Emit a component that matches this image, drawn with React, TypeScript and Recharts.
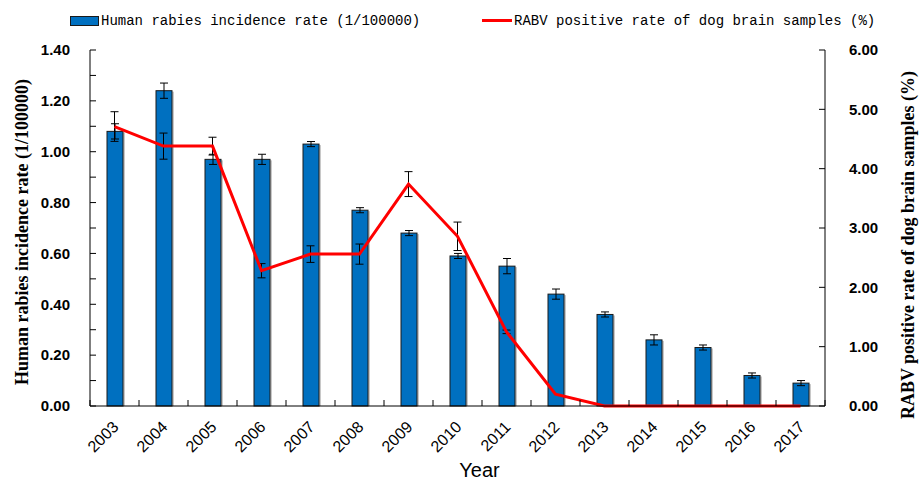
import React from 'react';
import { ComposedChart, Bar, Line, XAxis, YAxis, ErrorBar } from 'recharts';

const YEARS = ['2003', '2004', '2005', '2006', '2007', '2008', '2009', '2010', '2011', '2012', '2013', '2014', '2015', '2016', '2017'];
const HUMAN_RATE = [1.08, 1.24, 0.97, 0.97, 1.03, 0.77, 0.68, 0.59, 0.55, 0.44, 0.36, 0.26, 0.23, 0.12, 0.09];
const HUMAN_ERR = [0.03, 0.03, 0.02, 0.02, 0.01, 0.01, 0.01, 0.01, 0.03, 0.02, 0.01, 0.02, 0.01, 0.01, 0.01];
const DOG_RATE = [4.71, 4.38, 4.38, 2.28, 2.56, 2.56, 3.74, 2.86, 1.25, 0.2, 0, 0, 0, 0, 0];
const DOG_ERR = [0.25, 0.22, 0.15, 0.12, 0.14, 0.17, 0.21, 0.24, 0.03, null, null, null, null, null, null];
const LEFT_TICKS = [0, 0.1, 0.2, 0.3, 0.4, 0.5, 0.6, 0.7, 0.8, 0.9, 1.0, 1.1, 1.2, 1.3, 1.4];
const RIGHT_TICKS = [0, 1, 2, 3, 4, 5, 6];
const HUMAN_NAME = 'Human rabies incidence rate (1/100000)';
const DOG_NAME = 'RABV positive rate of dog brain samples (%)';
const LEFT_TITLE = 'Human rabies incidence rate (1/100000)';
const RIGHT_TITLE = 'RABV positive rate of dog brain samples (%)';
const X_TITLE = 'Year';

const data = YEARS.map((year, i) => ({
  year,
  pos: i + 0.5,
  human: HUMAN_RATE[i],
  humanErr: HUMAN_ERR[i],
  dog: DOG_RATE[i],
  dogErr: DOG_ERR[i],
}));

const X_TICKS: number[] = [];
YEARS.forEach((_, i) => {
  X_TICKS.push(i);
  X_TICKS.push(i + 0.5);
});
X_TICKS.push(YEARS.length);

const BLUE = '#0070C0';
const RED = '#FF0000';

const BarShape = (props: any) => {
  const { x, y, width, height } = props;
  if (!height || height <= 0) return null;
  return (
    <g>
      <rect x={x + 2} y={y + 1} width={width} height={height - 1} fill="#c8c8c8" />
      <rect x={x} y={y} width={width} height={height} fill={BLUE} stroke="#1a1a1a" strokeWidth={1} />
    </g>
  );
};

const YearTick = (props: any) => {
  const { x, y, payload } = props;
  const v = payload.value;
  if (Number.isInteger(v)) {
    return <line x1={x} x2={x} y1={y} y2={y - 6} stroke="#000" strokeWidth={1} />;
  }
  const label = YEARS[Math.floor(v)];
  const ax = x + 5;
  const ay = y + 22;
  return (
    <text
      x={ax}
      y={ay}
      textAnchor="end"
      transform={`rotate(-45 ${ax} ${ay})`}
      fontFamily="'Liberation Sans', Arial, sans-serif"
      fontSize={16}
      fill="#000"
    >
      {label}
    </text>
  );
};

const LeftTitle = (props: any) => {
  const vb = props.viewBox || {};
  const cx = vb.x + 22;
  const cy = vb.y + vb.height / 2 + 4;
  return (
    <text
      x={cx}
      y={cy}
      textAnchor="middle"
      dominantBaseline="central"
      transform={`rotate(-90 ${cx} ${cy})`}
      fontFamily="'Liberation Serif', 'Times New Roman', serif"
      fontWeight="bold"
      fontSize={18}
      fill="#000"
    >
      {LEFT_TITLE}
    </text>
  );
};

const RightTitle = (props: any) => {
  const vb = props.viewBox || {};
  const cx = vb.x + 83;
  const cy = vb.y + vb.height / 2 + 17;
  return (
    <text
      x={cx}
      y={cy}
      textAnchor="middle"
      dominantBaseline="central"
      transform={`rotate(-90 ${cx} ${cy})`}
      fontFamily="'Liberation Serif', 'Times New Roman', serif"
      fontWeight="bold"
      fontSize={18}
      fill="#000"
    >
      {RIGHT_TITLE}
    </text>
  );
};

const XTitle = (props: any) => {
  const vb = props.viewBox || {};
  const cx = vb.x + vb.width / 2 + 22;
  const cy = vb.y + 71;
  return (
    <text x={cx} y={cy} textAnchor="middle" fontFamily="'Liberation Sans', Arial, sans-serif" fontSize={20} fill="#000">
      {X_TITLE}
    </text>
  );
};

const tickFont = {
  fontFamily: "'Liberation Sans', Arial, sans-serif",
  fontWeight: 'bold',
  fontSize: 15,
  fill: '#000',
};

const legendText: React.CSSProperties = {
  position: 'absolute',
  top: 12,
  fontFamily: "'Liberation Mono', 'DejaVu Sans Mono', monospace",
  fontSize: 14,
  lineHeight: '18px',
  color: '#000',
  whiteSpace: 'nowrap',
};

export default function App() {
  return (
    <div style={{ position: 'absolute', left: 0, top: 0, width: 920, height: 484, background: '#fff' }}>
      <ComposedChart width={920} height={484} data={data} margin={{ top: 50, right: 0, bottom: 18, left: 0 }}>
        <XAxis
          xAxisId="x"
          type="number"
          dataKey="pos"
          domain={[0, YEARS.length]}
          ticks={X_TICKS}
          interval={0}
          tickLine={false}
          tickSize={0}
          tickMargin={0}
          tick={<YearTick />}
          axisLine={{ stroke: '#000', strokeWidth: 1 }}
          height={60}
          label={<XTitle />}
        />
        <YAxis
          yAxisId="left"
          orientation="left"
          domain={[0, 1.4]}
          ticks={LEFT_TICKS}
          interval={0}
          width={90}
          tickSize={-6}
          tickMargin={26}
          tickFormatter={(v: number) => (Math.round(v * 10) % 2 === 0 ? v.toFixed(2) : '')}
          tick={tickFont}
          tickLine={{ stroke: '#000', strokeWidth: 1 }}
          axisLine={{ stroke: '#000', strokeWidth: 1 }}
          label={<LeftTitle />}
        />
        <YAxis
          yAxisId="right"
          orientation="right"
          domain={[0, 6]}
          ticks={RIGHT_TICKS}
          interval={0}
          width={95}
          tickSize={-6}
          tickMargin={30}
          tickFormatter={(v: number) => v.toFixed(2)}
          tick={tickFont}
          tickLine={{ stroke: '#000', strokeWidth: 1 }}
          axisLine={{ stroke: '#000', strokeWidth: 1 }}
          label={<RightTitle />}
        />
        <Bar xAxisId="x" yAxisId="left" dataKey="human" name={HUMAN_NAME} barSize={16} shape={BarShape} isAnimationActive={false}>
          <ErrorBar dataKey="humanErr" width={4} stroke="#000" strokeWidth={1} direction="y" />
        </Bar>
        <Line
          xAxisId="x"
          yAxisId="right"
          type="linear"
          dataKey="dog"
          name={DOG_NAME}
          stroke={RED}
          strokeWidth={3}
          dot={false}
          activeDot={false}
          isAnimationActive={false}
        >
          <ErrorBar dataKey="dogErr" width={4} stroke="#000" strokeWidth={1} direction="y" />
        </Line>
      </ComposedChart>
      <div style={{ position: 'absolute', left: 70, top: 16, width: 27, height: 8, background: BLUE, border: '1px solid #1a1a1a' }} />
      <div style={{ ...legendText, left: 101 }}>{HUMAN_NAME}</div>
      <div style={{ position: 'absolute', left: 482, top: 19, width: 30, height: 3, background: RED }} />
      <div style={{ ...legendText, left: 514 }}>{DOG_NAME}</div>
    </div>
  );
}
